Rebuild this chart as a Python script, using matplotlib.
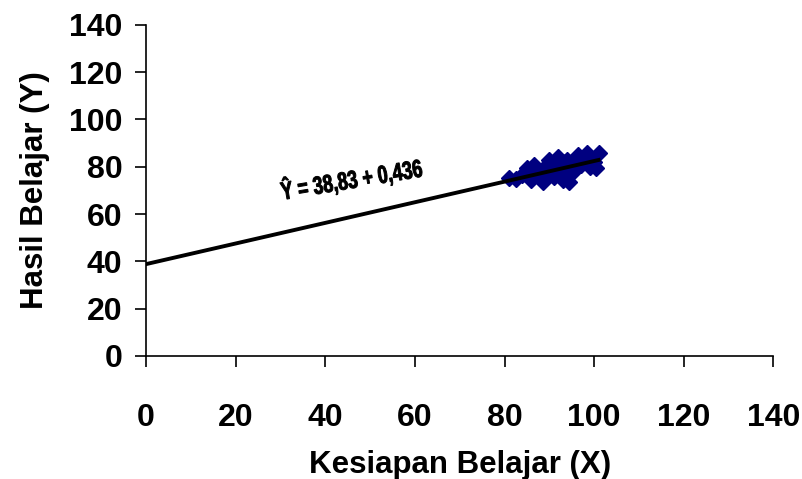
import matplotlib.pyplot as plt
import numpy as np
from matplotlib.textpath import TextPath
from matplotlib.patches import PathPatch
from matplotlib.font_manager import FontProperties
from matplotlib.transforms import Affine2D

# data
x_vals = [81, 82.5, 84, 85, 86.5, 86, 88, 88.5, 89, 90, 90.5, 91, 91, 92, 92, 93, 93, 93.5,
          94, 94.5, 95, 95.5, 96, 96.5, 97, 97.5, 98, 98.5, 99, 99.5, 100, 100.5, 101, 89.5, 87]
y_vals = [75.3, 75, 76.6, 79.5, 80.8, 74.4, 77.8, 73.6, 80, 83, 77.4, 81, 75.5, 84, 79, 74.4, 82, 78,
          83, 73.6, 77.4, 81, 80, 85, 80.8, 83, 84, 86, 80, 83, 82, 79.5, 86, 78.5, 78]
intercept = 38.83
slope = 0.436
x_ticks = [0, 20, 40, 60, 80, 100, 120, 140]
y_ticks = [0, 20, 40, 60, 80, 100, 120, 140]
equation = "Ŷ = 38,83 + 0,436"

plt.rcParams['font.family'] = ['Liberation Sans', 'DejaVu Sans']

fig = plt.figure(figsize=(8.03, 4.79), dpi=100)
ax = fig.add_axes([0.182, 0.257, 0.781, 0.691])

ax.plot(x_vals, y_vals, linestyle='none', marker='D', ms=8.5, color='#000080',
        markeredgecolor='#000080', zorder=2)
lx = np.array([0, max(x_vals)])
ax.plot(lx, intercept + slope * lx, color='black', lw=2.8, zorder=3)

ax.set_xlim(0, 140)
ax.set_ylim(0, 140)
ax.set_xticks(x_ticks)
ax.set_yticks(y_ticks)
ax.spines['top'].set_visible(False)
ax.spines['right'].set_visible(False)
for s in ['left', 'bottom']:
    ax.spines[s].set_linewidth(1.2)
ax.tick_params(axis='both', direction='out', length=8, width=1.2, labelsize=23)
ax.tick_params(axis='x', pad=26)
ax.tick_params(axis='y', pad=9)
for lab in ax.get_xticklabels() + ax.get_yticklabels():
    lab.set_fontweight('bold')

ax.set_xlabel('Kesiapan Belajar (X)', fontsize=22.5, fontweight='bold', labelpad=12)
ax.set_ylabel('Hasil Belajar (Y)', fontsize=22.5, fontweight='bold', labelpad=14)

# narrow, slanted equation label (condensed like Arial Narrow)
tp = TextPath((0, 0), equation, size=18,
              prop=FontProperties(family='Liberation Sans', weight='bold'))
ox, oy = ax.transData.transform((30.4, 66.0))
tr = Affine2D().scale(0.72, 1).rotate_deg(9.5).scale(fig.dpi / 72).translate(ox, oy)
fig.patches.append(PathPatch(tp, transform=tr, facecolor='black', edgecolor='black',
                             linewidth=0.7, figure=fig))

fig.savefig('out.png', dpi=100)
